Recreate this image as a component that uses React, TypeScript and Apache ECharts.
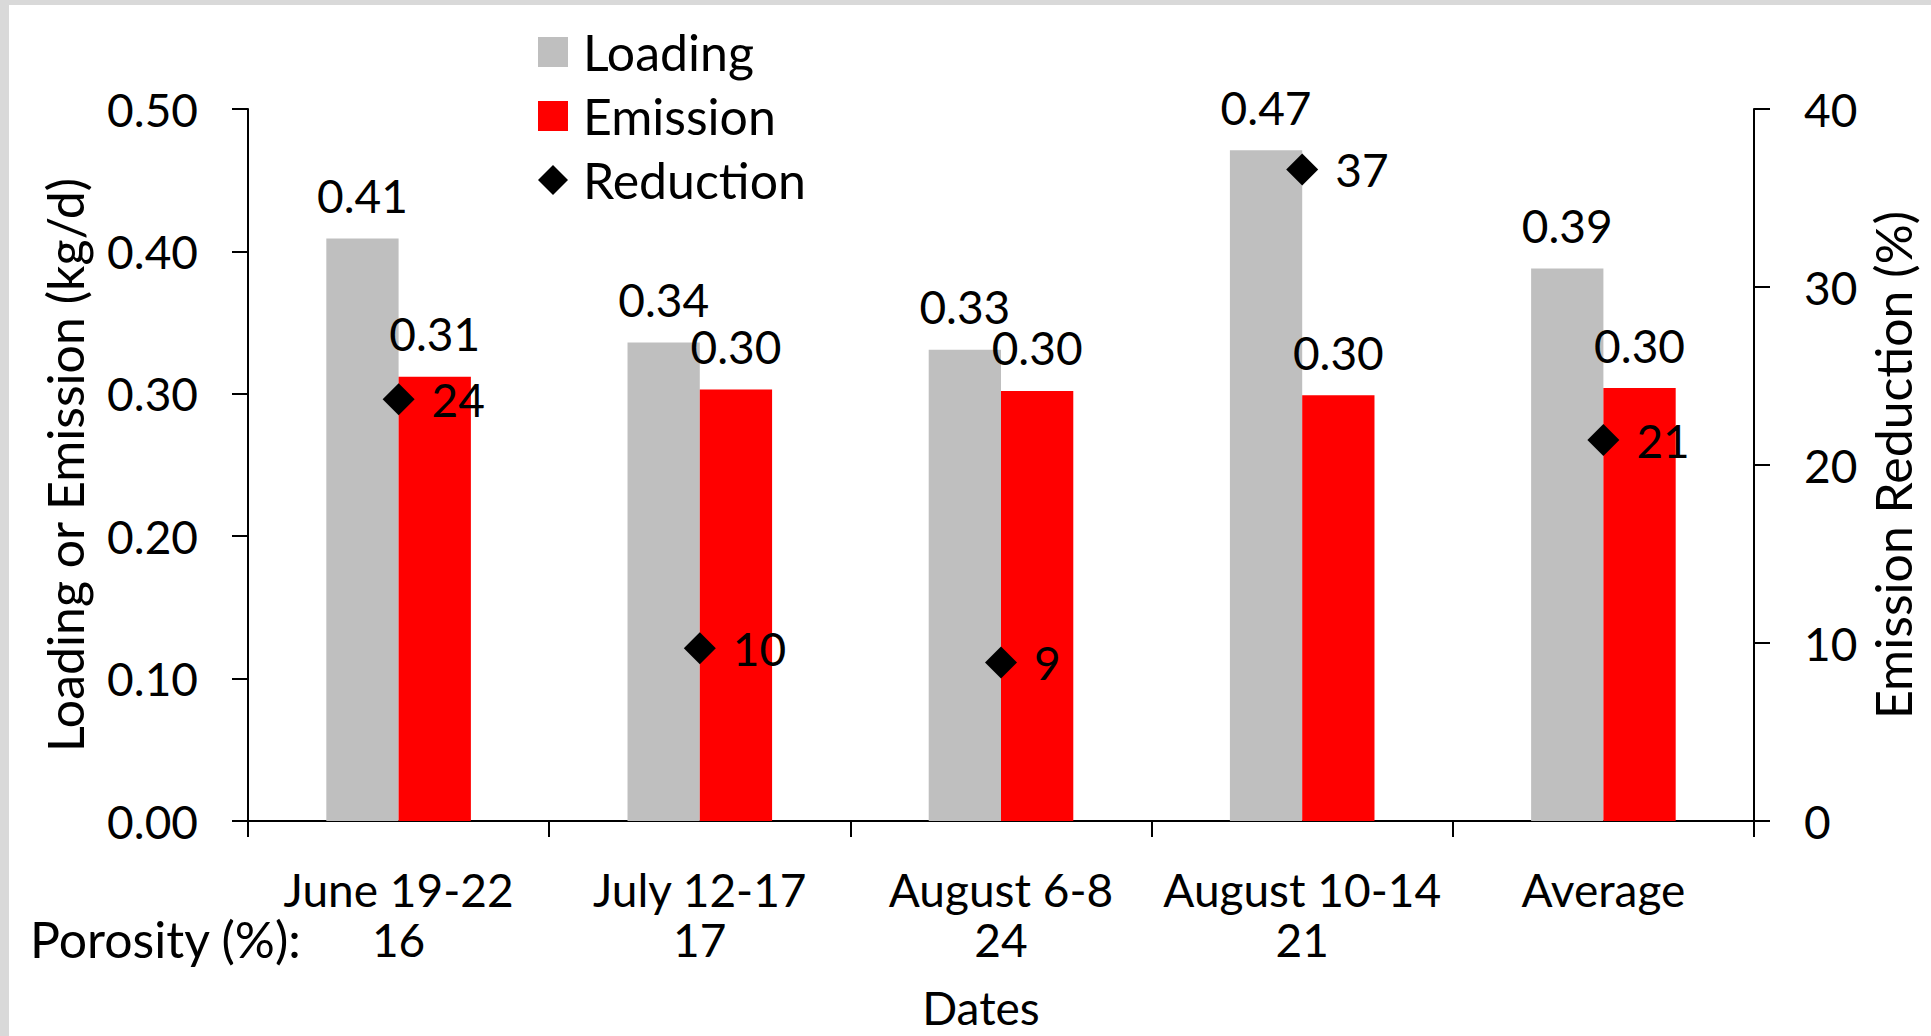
import React, { useEffect, useRef } from 'react';
import * as echarts from 'echarts';

const categories = ['June 19-22', 'July 12-17', 'August 6-8', 'August 10-14', 'Average'];
const porosity = ['16', '17', '24', '21', ''];
const loading = [0.409, 0.336, 0.331, 0.471, 0.388];
const emission = [0.312, 0.303, 0.302, 0.299, 0.304];
const reduction = [23.7, 9.7, 8.9, 36.6, 21.4];

const FONT = 'Lato';
const FS = 46;
const FW = 50;
const BLACK = '#000000';

export default function App() {
  const ref = useRef<HTMLDivElement>(null);
  useEffect(() => {
    const chart = echarts.init(ref.current as HTMLDivElement, null, { renderer: 'svg' });
    const txt = { fontFamily: FONT, fontSize: FS, color: BLACK };
    const word = { fontFamily: FONT, fontSize: FW, color: BLACK };
    const lineStyle = { color: BLACK, width: 2 };
    chart.setOption({
      animation: false,
      backgroundColor: '#ffffff',
      textStyle: txt,
      grid: { left: 248, right: 177, top: 109, bottom: 215, containLabel: false, outerBoundsMode: 'none' },
      legend: {
        orient: 'vertical',
        left: 538,
        top: 27,
        padding: 0,
        itemWidth: 30,
        itemHeight: 30,
        itemGap: 14,
        selectedMode: false,
        textStyle: { ...word, padding: [0, 0, 0, 10] },
        data: [
          { name: 'Loading', icon: 'rect' },
          { name: 'Emission', icon: 'rect' },
          { name: 'Reduction', icon: 'diamond' },
        ],
      },
      xAxis: {
        type: 'category',
        data: categories,
        name: 'Dates',
        nameLocation: 'middle',
        nameGap: 163,
        nameTextStyle: { ...txt, padding: [0, 40, 0, 0] },
        axisLine: { show: true, lineStyle },
        axisTick: { show: true, length: 16, lineStyle },
        axisLabel: {
          ...txt,
          interval: 0,
          margin: 43,
          lineHeight: 50,
          formatter: (v: string, i: number) => (porosity[i] ? v + '\n' + porosity[i] : v),
        },
        splitLine: { show: false },
      },
      yAxis: [
        {
          type: 'value',
          position: 'left',
          min: 0,
          max: 0.5,
          interval: 0.1,
          name: 'Loading or Emission (kg/d)',
          nameLocation: 'middle',
          nameGap: 158,
          nameRotate: 90,
          nameTextStyle: word,
          axisLine: { show: true, lineStyle },
          axisTick: { show: true, length: 16, lineStyle },
          axisLabel: { ...txt, margin: 50, formatter: (v: number) => v.toFixed(2) },
          splitLine: { show: false },
        },
        {
          type: 'value',
          position: 'right',
          min: 0,
          max: 40,
          interval: 10,
          name: 'Emission Reduction (%)',
          nameLocation: 'middle',
          nameGap: 114,
          nameRotate: 90,
          nameTextStyle: word,
          axisLine: { show: true, lineStyle },
          axisTick: { show: true, length: 16, lineStyle },
          axisLabel: { ...txt, margin: 50 },
          splitLine: { show: false },
        },
      ],
      series: [
        {
          name: 'Loading',
          type: 'bar',
          data: loading,
          barWidth: '24%',
          barGap: '0%',
          itemStyle: { color: '#bfbfbf' },
          label: { show: true, position: 'top', distance: 20, ...txt, formatter: (p: any) => p.value.toFixed(2) },
        },
        {
          name: 'Emission',
          type: 'bar',
          data: emission,
          barWidth: '24%',
          barGap: '0%',
          itemStyle: { color: '#ff0000' },
          label: { show: true, position: 'top', distance: 20, ...txt, formatter: (p: any) => p.value.toFixed(2) },
        },
        {
          name: 'Reduction',
          type: 'scatter',
          yAxisIndex: 1,
          data: reduction,
          symbol: 'diamond',
          symbolSize: 32,
          z: 5,
          itemStyle: { color: BLACK, opacity: 1 },
          emphasis: { disabled: true },
          label: {
            show: true,
            position: 'right',
            distance: 17,
            ...txt,
            opacity: 1,
            formatter: (p: any) => Math.round(p.value).toString(),
          },
        },
      ],
      graphic: [
        { type: 'rect', shape: { x: 0, y: 0, width: 1931, height: 5 }, style: { fill: '#d9d9d9' }, silent: true },
        { type: 'rect', shape: { x: 0, y: 0, width: 9, height: 1036 }, style: { fill: '#d9d9d9' }, silent: true },
        {
          type: 'text',
          x: 30,
          y: 939,
          style: { text: 'Porosity (%):', fontFamily: FONT, fontSize: FW, fill: BLACK, verticalAlign: 'middle', align: 'left' },
          silent: true,
        },
      ],
    });
    return () => chart.dispose();
  }, []);
  return (
    <div
      ref={ref}
      style={{ position: 'fixed', left: 0, top: 0, width: 1931, height: 1036, background: '#ffffff' }}
    />
  );
}
